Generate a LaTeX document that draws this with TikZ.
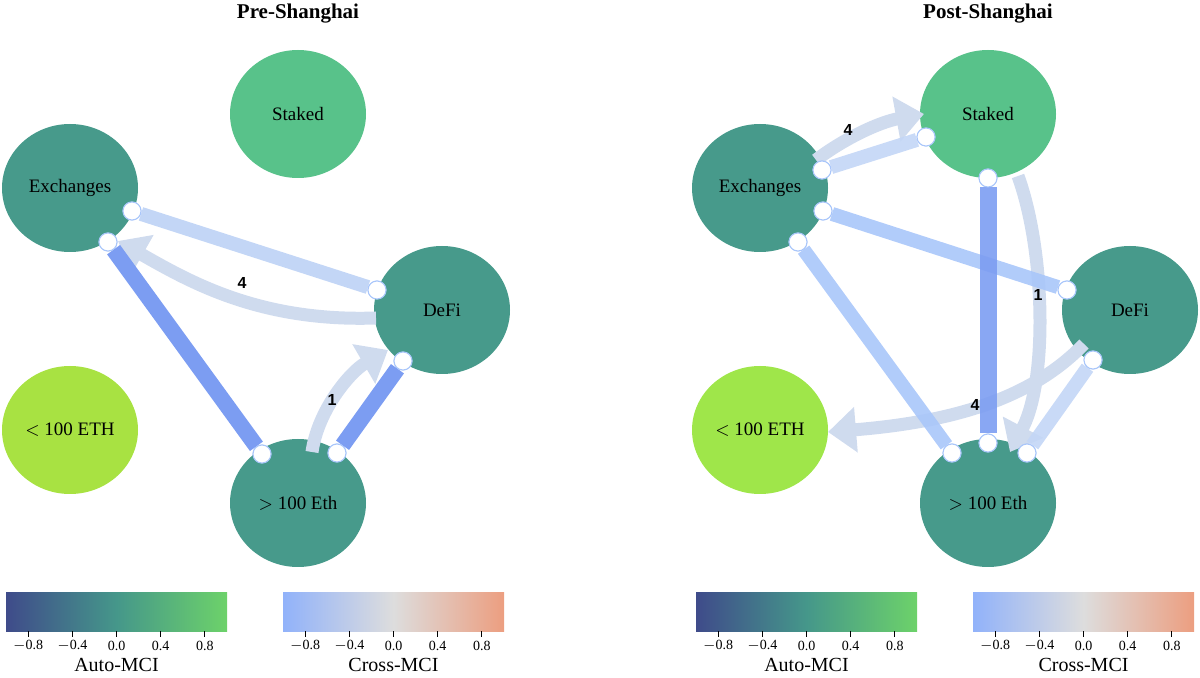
\documentclass[tikz,border=0pt]{standalone}
\usepackage{fontspec}
\setmainfont{Liberation Serif}
\newfontfamily\lblfont{Liberation Sans}
\usetikzlibrary{arrows.meta,shapes.geometric}
\newlength\pxu
\setlength\pxu{0.5pt}
\definecolor{cStaked}{HTML}{58C28A}
\definecolor{cMid}{HTML}{479A8B}
\definecolor{cSmallL}{HTML}{A8E242}
\definecolor{cSmallR}{HTML}{9FE64A}
\definecolor{eDark}{HTML}{7C9DF2}
\definecolor{eMid}{HTML}{A9C6FA}
\definecolor{eLight}{HTML}{C3D6F6}
\definecolor{aGrey}{HTML}{CFDBEE}
\definecolor{vA}{RGB}{75,17,102}
\definecolor{vB}{RGB}{63,75,138}
\definecolor{vC}{RGB}{69,151,138}
\definecolor{vD}{RGB}{109,210,106}
\definecolor{vE}{RGB}{227,245,60}
\definecolor{wA}{RGB}{65,85,205}
\definecolor{wB}{RGB}{145,178,250}
\definecolor{wC}{RGB}{221,221,221}
\definecolor{wD}{RGB}{236,158,128}
\definecolor{wE}{RGB}{180,25,40}
\pgfdeclarehorizontalshading{viri}{100bp}{color(0bp)=(vA); color(25bp)=(vB); color(50bp)=(vC); color(75bp)=(vD); color(100bp)=(vE)}
\pgfdeclarehorizontalshading{cwarm}{100bp}{color(0bp)=(wA); color(25bp)=(wB); color(50bp)=(wC); color(75bp)=(wD); color(100bp)=(wE)}
\tikzset{
  netnode/.style={ellipse,minimum width=136\pxu,minimum height=128\pxu,inner sep=0pt,font=\fontsize{9.5}{11}\selectfont},
  port/.style={circle,fill=white,draw=eMid,line width=0.5pt,minimum size=18\pxu,inner sep=0pt},
  link/.style={line width=#1\pxu},
  carrow/.style={draw=aGrey,line width=13\pxu,-{Triangle[length=14pt,width=22pt]}},
  elabel/.style={font=\lblfont\bfseries\fontsize{8}{9}\selectfont,text=black},
  ttl/.style={font=\bfseries\fontsize{10.5}{12}\selectfont},
  tick/.style={font=\fontsize{7}{8}\selectfont},
  cblab/.style={font=\fontsize{10}{12}\selectfont}
}
\begin{document}
\begin{tikzpicture}[x=0.5pt,y=-0.5pt]
\useasboundingbox (0,0) rectangle (1200,678);
\node[ttl] (t1) at (298,14) {Pre-Shanghai};
\node[ttl] (t2) at (988,14) {Post-Shanghai};
% ---------- left nodes
\node[netnode,fill=cStaked] (lS) at (298,114) {Staked};
\node[netnode,fill=cMid] (lE) at (70,188) {Exchanges};
\node[netnode,fill=cMid] (lD) at (442,310) {DeFi};
\node[netnode,fill=cSmallL] (lL) at (70,430) {$<$ 100 ETH};
\node[netnode,fill=cMid] (lB) at (298,503) {$>$ 100 Eth};
% ---------- right nodes
\node[netnode,fill=cStaked] (rS) at (988,114) {Staked};
\node[netnode,fill=cMid] (rE) at (760,188) {Exchanges};
\node[netnode,fill=cMid] (rD) at (1130,310) {DeFi};
\node[netnode,fill=cSmallR] (rL) at (760,430) {$<$ 100 ETH};
\node[netnode,fill=cMid] (rB) at (988,503) {$>$ 100 Eth};
% ---------- left curved arrows
\coordinate (la1s) at (376,318); \coordinate (la1e) at (118,241);
\draw[carrow] (la1s) .. controls (260,322) and (190,282) .. (la1e);
\coordinate (la2s) at (312,452); \coordinate (la2e) at (388,350);
\draw[carrow] (la2s) .. controls (318,410) and (350,372) .. (la2e);
\node[elabel] (l4) at (242,283) {4};
\node[elabel] (l1) at (332,400) {1};
% left straight
\node[port] (pEB1) at (108,242) {}; \node[port] (pEB2) at (262,454) {};
\node[port] (pED1) at (132,211) {}; \node[port] (pED2) at (377,290) {};
\node[port] (pBD1) at (337,453) {}; \node[port] (pBD2) at (403,361) {};
\draw[link=16,eDark] (pEB1) -- (pEB2);
\draw[link=14,eLight] (pED1) -- (pED2);
\draw[link=16,eDark] (pBD1) -- (pBD2);
\foreach \p in {pEB1,pEB2,pED1,pED2,pBD1,pBD2}{\node[port] at (\p) {};}
% ---------- right curved arrows
\coordinate (ra1s) at (816,160); \coordinate (ra1e) at (924,114);
\draw[carrow] (ra1s) .. controls (845,138) and (880,122) .. (ra1e);
\coordinate (ra2s) at (1018,176); \coordinate (ra2e) at (1010,452);
\draw[carrow] (ra2s) .. controls (1045,250) and (1048,380) .. (ra2e);
\coordinate (ra3s) at (1084,344); \coordinate (ra3e) at (828,432);
\draw[carrow] (ra3s) .. controls (1030,400) and (950,422) .. (ra3e);
\node[elabel] (r4a) at (848,130) {4};
\node[elabel] (r1) at (1038,295) {1};
\node[elabel] (r4b) at (975,405) {4};
% right straight
\node[port] (qES1) at (822,170) {}; \node[port] (qES2) at (926,137) {};
\node[port] (qSB1) at (988,178) {}; \node[port] (qSB2) at (988,443) {};
\node[port] (qED1) at (823,211) {}; \node[port] (qED2) at (1067,290) {};
\node[port] (qEB1) at (798,242) {}; \node[port] (qEB2) at (952,453) {};
\node[port] (qDB1) at (1093,360) {}; \node[port] (qDB2) at (1027,453) {};
\draw[link=14,eLight,opacity=0.9] (qES1) -- (qES2);
\draw[link=14,eMid,opacity=0.9] (qED1) -- (qED2);
\draw[link=14,eMid,opacity=0.9] (qEB1) -- (qEB2);
\draw[link=14,eLight,opacity=0.9] (qDB1) -- (qDB2);
\draw[link=17,eDark,opacity=0.9] (qSB1) -- (qSB2);
\foreach \p in {qES1,qES2,qSB1,qSB2,qED1,qED2,qEB1,qEB2,qDB1,qDB2}{\node[port] at (\p) {};}
% ---------- colorbars
\foreach \x/\sh/\lab/\n in {6/viri/Auto-MCI/a,283/cwarm/Cross-MCI/b,696/viri/Auto-MCI/c,973/cwarm/Cross-MCI/d}{
  \shade[shading=\sh] (\x,592) rectangle (\x+221,631);
  \foreach \v/\t in {-0.8/$-$0.8,-0.4/$-$0.4,0/0.0,0.4/0.4,0.8/0.8}{
    \draw[line width=0.5pt] (\x+110.5+110.5*\v,631) -- (\x+110.5+110.5*\v,637);
    \node[tick] at (\x+110.5+110.5*\v,646) {\t};
  }
  \node[cblab] (cb\n) at (\x+110.5,665) {\lab};
}
\end{tikzpicture}
\end{document}
